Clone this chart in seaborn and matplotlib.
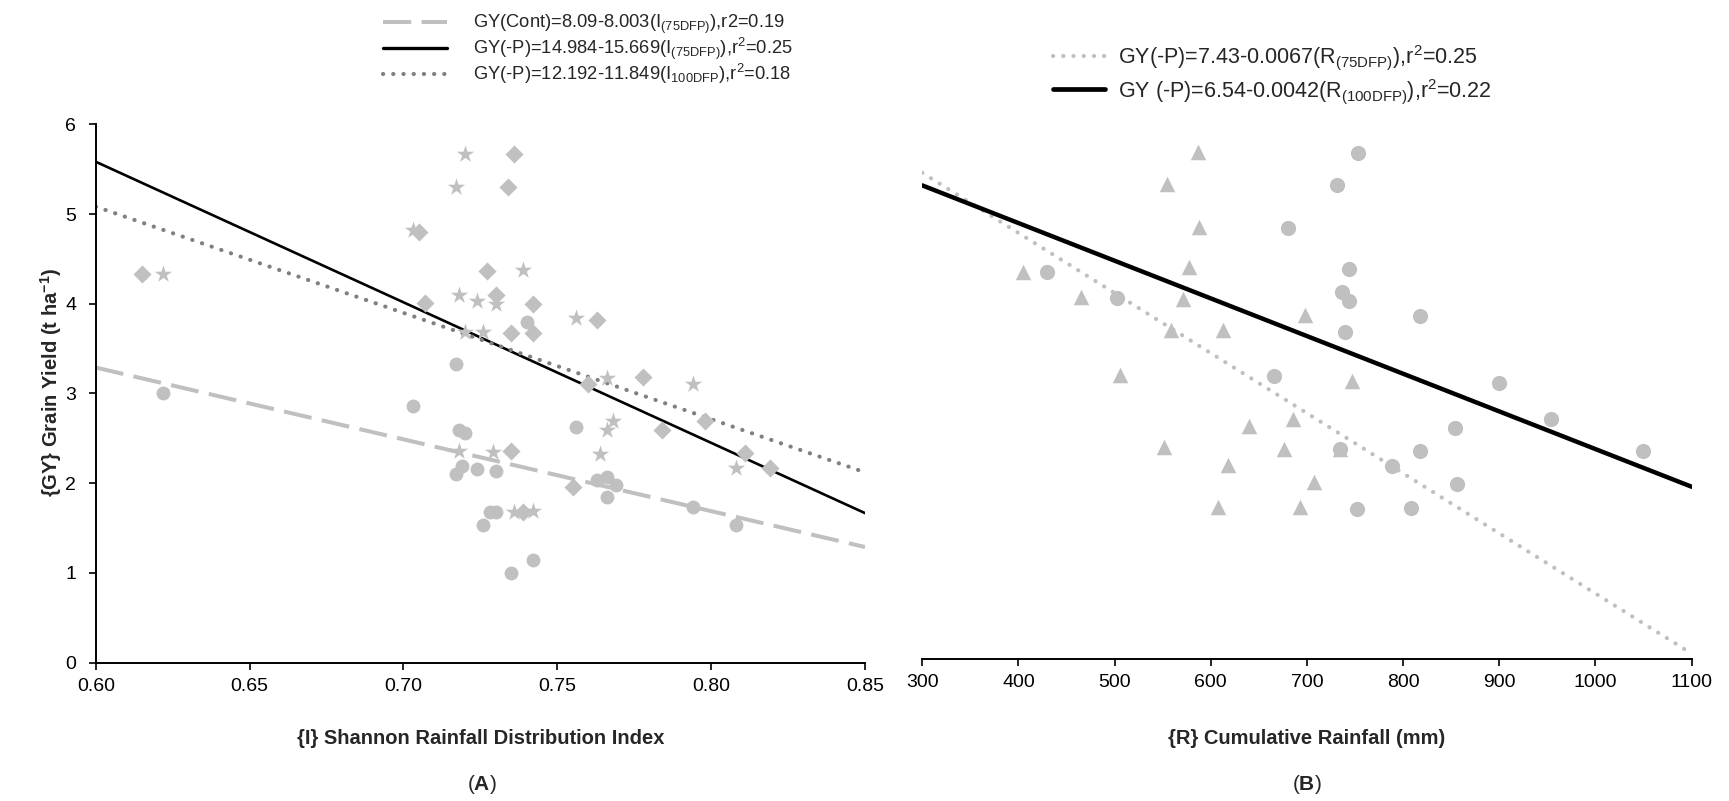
import numpy as np
import matplotlib
matplotlib.use("Agg")
import matplotlib.pyplot as plt
import seaborn as sns
from matplotlib.lines import Line2D

# ── Data ─────────────────────────────────────────────────────────────────────
# Panel A: Shannon rainfall distribution index vs grain yield
a_diamond_x = [0.615, 0.705, 0.707, 0.727, 0.730, 0.736, 0.734, 0.742, 0.735, 0.742,
               0.763, 0.760, 0.778, 0.798, 0.784, 0.811, 0.819, 0.735, 0.755, 0.739]
a_diamond_y = [4.33, 4.80, 4.01, 4.37, 4.10, 5.67, 5.30, 4.00, 3.67, 3.67,
               3.82, 3.10, 3.18, 2.69, 2.59, 2.34, 2.17, 2.36, 1.96, 1.68]

a_star_x = [0.622, 0.720, 0.717, 0.703, 0.739, 0.718, 0.724, 0.730, 0.756, 0.720, 0.726,
            0.766, 0.794, 0.768, 0.766, 0.764, 0.729, 0.718, 0.808, 0.736, 0.742]
a_star_y = [4.33, 5.67, 5.30, 4.82, 4.38, 4.10, 4.03, 4.00, 3.84, 3.68, 3.69,
            3.17, 3.10, 2.69, 2.59, 2.33, 2.35, 2.36, 2.17, 1.68, 1.69]

a_circle_x = [0.622, 0.717, 0.703, 0.740, 0.718, 0.720, 0.719, 0.724, 0.717, 0.730, 0.756,
              0.763, 0.766, 0.769, 0.766, 0.728, 0.730, 0.726, 0.794, 0.808, 0.742, 0.735]
a_circle_y = [3.00, 3.33, 2.86, 3.80, 2.59, 2.56, 2.19, 2.16, 2.10, 2.13, 2.62,
              2.03, 2.07, 1.98, 1.85, 1.68, 1.68, 1.53, 1.73, 1.53, 1.14, 1.00]

# Panel B: cumulative rainfall vs grain yield
b_triangle_x = [587, 555, 588, 405, 577, 465, 571, 559, 613, 506, 698,
                640, 686, 551, 676, 618, 607, 693, 747, 707, 734]
b_triangle_y = [5.65, 5.29, 4.82, 4.31, 4.37, 4.04, 4.01, 3.67, 3.67, 3.17, 3.83,
                2.60, 2.68, 2.36, 2.34, 2.16, 1.69, 1.69, 3.10, 1.97, 2.34]

b_circle_x = [430, 503, 680, 666, 753, 731, 744, 736, 744, 818, 740,
              900, 954, 854, 1049, 734, 818, 788, 856, 752, 808]
b_circle_y = [4.31, 4.02, 4.80, 3.16, 5.64, 5.28, 4.35, 4.09, 3.99, 3.82, 3.65,
              3.08, 2.67, 2.58, 2.32, 2.34, 2.32, 2.15, 1.95, 1.67, 1.68]

# Regression lines (intercept, slope) as given in the legends
a_fit_cont = (8.09, -8.003)
a_fit_75 = (14.984, -15.669)
a_fit_100 = (12.192, -11.849)
b_fit_75 = (7.43, -0.0067)
b_fit_100 = (6.54, -0.0042)

a_labels = [
    "GY(Cont)=8.09-8.003(I$_{(75DFP)}$),r2=0.19",
    "GY(-P)=14.984-15.669(I$_{(75DFP)}$),r$^{2}$=0.25",
    "GY(-P)=12.192-11.849(I$_{100DFP}$),r$^{2}$=0.18",
]
b_labels = [
    "GY(-P)=7.43-0.0067(R$_{(75DFP)}$),r$^{2}$=0.25",
    "GY (-P)=6.54-0.0042(R$_{(100DFP)}$),r$^{2}$=0.22",
]

a_xticks = [0.60, 0.65, 0.70, 0.75, 0.80, 0.85]
b_xticks = [300, 400, 500, 600, 700, 800, 900, 1000, 1100]
y_ticks = [0, 1, 2, 3, 4, 5, 6]

# ── Style ────────────────────────────────────────────────────────────────────
sns.set_style("ticks")
plt.rcParams["font.family"] = ["Liberation Sans", "DejaVu Sans"]
plt.rcParams["mathtext.fontset"] = "custom"
plt.rcParams["mathtext.rm"] = "Liberation Sans"
plt.rcParams["mathtext.bf"] = "Liberation Sans:bold"
plt.rcParams["mathtext.default"] = "regular"

GRAY = "#c0c0c0"
DOT_DARK = "#808080"
DASHED = (0, (7, 2.6))
DOTTED = (0, (0.05, 2.4))
LABEL_SIZE = 14.5

fig = plt.figure(figsize=(17.29, 8.01), dpi=100)
ax_a = fig.add_axes([0.0554, 0.1729, 0.4449, 0.6719])
ax_b = fig.add_axes([0.5334, 0.1773, 0.4450, 0.6719])


def fit_line(ax, coef, xs, **kw):
    xs = np.array(xs, dtype=float)
    ys = coef[0] + coef[1] * xs
    sns.lineplot(x=xs, y=ys, ax=ax, **kw)


# ── Panel A ──────────────────────────────────────────────────────────────────
a_x = [0.60, 0.85]
fit_line(ax_a, a_fit_cont, a_x, color=GRAY, linestyle=DASHED, linewidth=2.9, zorder=2)
fit_line(ax_a, a_fit_75, a_x, color="black", linewidth=1.9, zorder=2)
fit_line(ax_a, a_fit_100, a_x, color=DOT_DARK, linestyle=DOTTED, linewidth=3.0,
         dash_capstyle="round", zorder=2)

sns.scatterplot(x=a_circle_x, y=a_circle_y, ax=ax_a, marker="o", s=100,
                color=GRAY, linewidth=0, zorder=3)
sns.scatterplot(x=a_diamond_x, y=a_diamond_y, ax=ax_a, marker="D", s=85,
                color=GRAY, linewidth=0, zorder=3)
sns.scatterplot(x=a_star_x, y=a_star_y, ax=ax_a, marker="*", s=170,
                color=GRAY, linewidth=0, zorder=3)

ax_a.set_xlim(0.60, 0.85)
ax_a.set_ylim(0, 6)
ax_a.set_xticks(a_xticks)
ax_a.set_xticklabels([f"{t:.2f}" for t in a_xticks])
ax_a.set_yticks(y_ticks)
ax_a.set_xlabel("{I} Shannon Rainfall Distribution Index", fontsize=LABEL_SIZE, fontweight="bold")
ax_a.set_ylabel("{GY} Grain Yield (t ha$^{-1}$)", fontsize=LABEL_SIZE, fontweight="bold")
ax_a.xaxis.set_label_coords(0.5, -0.1234)
ax_a.yaxis.set_label_coords(-0.041, 0.52)
sns.despine(ax=ax_a)

a_handles = [
    Line2D([], [], color=GRAY, linestyle=DASHED, linewidth=2.9),
    Line2D([], [], color="black", linewidth=2.4),
    Line2D([], [], color=DOT_DARK, linestyle=DOTTED, linewidth=3.0, dash_capstyle="round"),
]
ax_a.legend(a_handles, a_labels, loc="upper left", bbox_to_anchor=(0.2215, 0.984),
            bbox_transform=fig.transFigure, frameon=False, fontsize=13.2,
            borderpad=0, borderaxespad=0, handlelength=3.5, handletextpad=1.42,
            labelspacing=0.0)

# ── Panel B ──────────────────────────────────────────────────────────────────
b_x = [300, 1100]
fit_line(ax_b, b_fit_75, b_x, color=GRAY, linestyle=DOTTED, linewidth=3.0,
         dash_capstyle="round", zorder=2)
fit_line(ax_b, b_fit_100, b_x, color="black", linewidth=3.2, zorder=2)

sns.scatterplot(x=b_circle_x, y=b_circle_y, ax=ax_b, marker="o", s=120,
                color=GRAY, linewidth=0, zorder=3)
sns.scatterplot(x=b_triangle_x, y=b_triangle_y, ax=ax_b, marker="^", s=125,
                color=GRAY, linewidth=0, zorder=3)

ax_b.set_xlim(300, 1100)
ax_b.set_ylim(0, 6)
ax_b.set_xticks(b_xticks)
ax_b.set_yticks([])
ax_b.set_xlabel("{R} Cumulative Rainfall (mm)", fontsize=LABEL_SIZE, fontweight="bold")
ax_b.xaxis.set_label_coords(0.5, -0.130)
sns.despine(ax=ax_b, left=True)

b_handles = [
    Line2D([], [], color=GRAY, linestyle=DOTTED, linewidth=3.0, dash_capstyle="round"),
    Line2D([], [], color="black", linewidth=3.4),
]
ax_b.legend(b_handles, b_labels, loc="upper left", bbox_to_anchor=(0.609, 0.946),
            bbox_transform=fig.transFigure, frameon=False, fontsize=15.5,
            borderpad=0, borderaxespad=0, handlelength=2.4, handletextpad=0.6,
            labelspacing=0.2)

for ax in (ax_a, ax_b):
    for side in ("left", "bottom"):
        ax.spines[side].set_linewidth(1.4)
        ax.spines[side].set_color("black")
    ax.tick_params(axis="both", direction="out", length=5, width=1.2,
                   labelsize=14, colors="black")
    ax.tick_params(axis="x", pad=6)
    ax.tick_params(axis="y", pad=9)
    ax.set_facecolor("white")

fig.text(0.2787, 0.02, "($\\mathbf{A}$)", ha="center", va="center", fontsize=15)
fig.text(0.7559, 0.02, "($\\mathbf{B}$)", ha="center", va="center", fontsize=15)

fig.savefig("out.png", dpi=100, facecolor="white")
plt.close(fig)
